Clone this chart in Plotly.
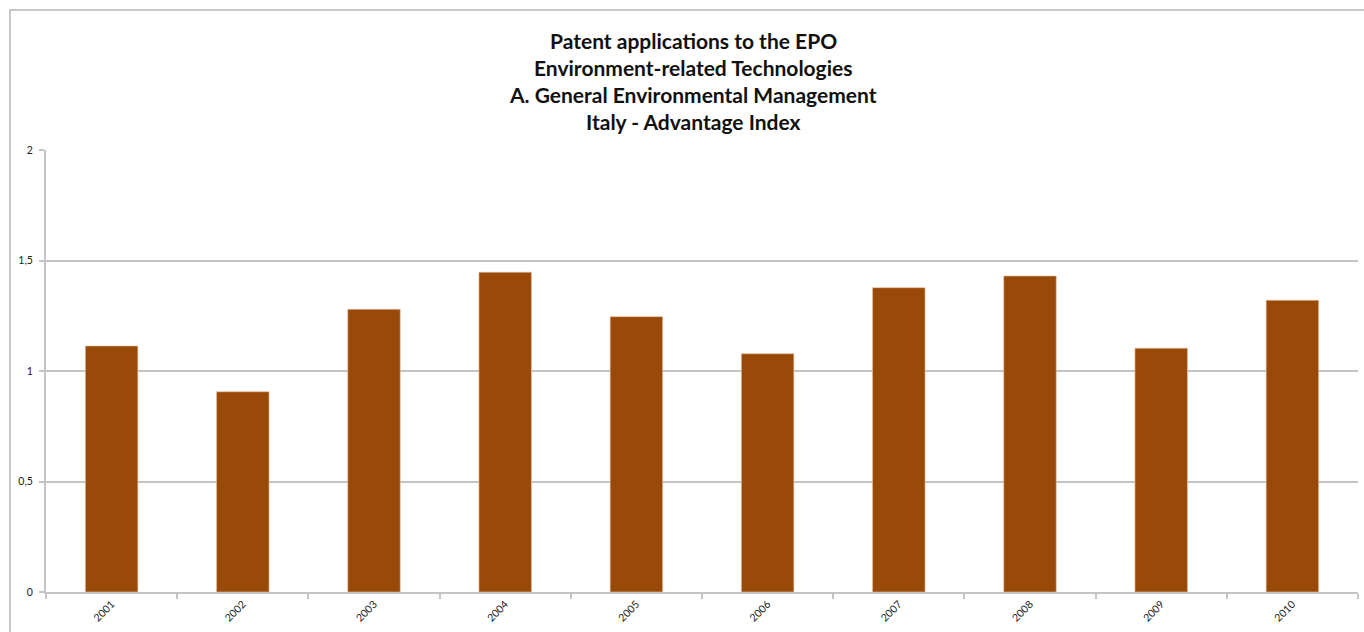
import plotly.graph_objects as go

years = ["2001", "2002", "2003", "2004", "2005", "2006", "2007", "2008", "2009", "2010"]
advantage_index = [1.113, 0.906, 1.279, 1.447, 1.246, 1.078, 1.377, 1.430, 1.103, 1.320]
y_ticks = [0, 0.5, 1, 1.5, 2]
y_tick_labels = ["0", "0,5", "1", "1,5", "2"]
title_lines = [
    "Patent applications to the EPO",
    "Environment-related Technologies",
    "A. General Environmental Management",
    "Italy - Advantage Index",
]

L, R, T, B = 46, 6, 150, 40
W, H = 1364, 632
pw = W - L - R
ph = H - T - B

fig = go.Figure()
fig.add_trace(go.Bar(
    x=years, y=advantage_index,
    marker=dict(color="#994a08", line=dict(color="#e8c0a0", width=0.6)),
    width=0.4,
))

fig.update_layout(
    width=W, height=H,
    margin=dict(l=L, r=R, t=T, b=B, pad=0),
    paper_bgcolor="white", plot_bgcolor="white",
    showlegend=False,
    font=dict(family="Lato, Open Sans, sans-serif", color="#222"),
    xaxis=dict(
        type="category",
        showline=True, linecolor="#c4c4c4", linewidth=2,
        ticks="outside", tickson="boundaries", ticklen=5, tickcolor="#c4c4c4", tickwidth=2,
        tickangle=-45, tickfont=dict(size=10.5, color="#222"),
        showgrid=False,
    ),
    yaxis=dict(
        range=[0, 2], tickvals=y_ticks, ticktext=y_tick_labels,
        showline=True, linecolor="#c4c4c4", linewidth=2,
        ticks="outside", ticklen=5, tickcolor="#c4c4c4", tickwidth=2,
        showgrid=True, gridcolor="#c4c4c4", gridwidth=2,
        tickfont=dict(size=10.5, color="#222"), zeroline=False,
        ticklabelstandoff=4,
    ),
    bargap=0.6,
)

for i, line in enumerate(title_lines):
    fig.add_annotation(
        xref="paper", yref="paper",
        x=(693 - L) / pw, y=(H - B - (40 + 27.3 * i)) / ph,
        text="<b>" + line + "</b>", showarrow=False,
        font=dict(size=21, family="Lato, Open Sans, sans-serif", color="#111"),
        xanchor="center", yanchor="middle",
    )

# outer chart frame
fig.add_shape(
    type="rect", xref="paper", yref="paper",
    x0=(10 - L) / pw, x1=(1372 - L) / pw,
    y0=(H - B - 645) / ph, y1=(H - B - 10) / ph,
    line=dict(color="#c8c8c8", width=2), fillcolor="rgba(0,0,0,0)", layer="below",
)

fig.write_html(
    "out.html",
    config={"displayModeBar": False},
    post_script="document.body.style.margin='0';document.body.style.overflow='hidden';",
)
